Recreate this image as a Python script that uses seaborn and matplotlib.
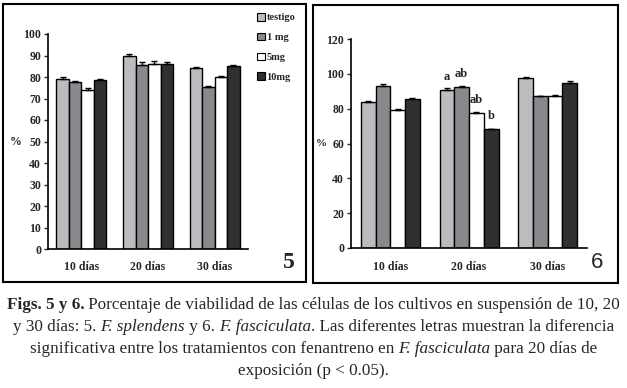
import pandas as pd
import matplotlib
matplotlib.use("Agg")
import matplotlib.pyplot as plt
import seaborn as sns
from matplotlib.patches import Rectangle
from matplotlib.container import BarContainer

# --- data ---
days = ["10 días", "20 días", "30 días"]
treatments = ["testigo", "1 mg", "5mg", "10mg"]
colors = ["#b9bcc1", "#87898d", "#ffffff", "#303033"]

# Fig. 5  F. splendens
viab5 = {
    "testigo": [79.2, 89.6, 84.2],
    "1 mg": [77.8, 85.7, 75.3],
    "5mg": [74.1, 86.2, 80.0],
    "10mg": [78.8, 86.2, 85.0],
}
err5 = {
    "testigo": [0.6, 1.2, 0.6],
    "1 mg": [0.4, 1.2, 0.5],
    "5mg": [0.8, 1.3, 0.6],
    "10mg": [0.5, 0.8, 0.6],
}

# Fig. 6  F. fasciculata
viab6 = {
    "testigo": [83.6, 91.0, 97.8],
    "1 mg": [93.3, 92.6, 87.4],
    "5mg": [79.2, 77.6, 87.4],
    "10mg": [85.5, 68.4, 94.9],
}
err6 = {
    "testigo": [0.6, 0.6, 0.5],
    "1 mg": [0.6, 0.6, 0.0],
    "5mg": [0.5, 0.5, 0.4],
    "10mg": [0.7, 0.0, 0.8],
}
letters6 = ["a", "ab", "ab", "b"]  # 20 días, per treatment


def long_df(vals, errs):
    rows = []
    for t in treatments:
        for i, d in enumerate(days):
            rows.append({"dia": d, "trat": t, "val": vals[t][i], "err": errs[t][i]})
    return pd.DataFrame(rows)


sns.set_style("white")
plt.rcParams["font.family"] = ["Liberation Serif", "DejaVu Serif"]

fig = plt.figure(figsize=(6.27, 3.88), dpi=100)
W, H = 627, 388


def px_axes(x0, x1, y_top, y_bot):
    return fig.add_axes([x0 / W, 1 - y_bot / H, (x1 - x0) / W, (y_bot - y_top) / H])


def bars_of(ax):
    return [c for c in ax.containers if isinstance(c, BarContainer)]


def draw_panel(ax, df, ymax, ystep):
    sns.barplot(data=df, x="dia", y="val", hue="trat", order=days,
                hue_order=treatments, palette=colors, width=0.75, gap=0,
                edgecolor="black", linewidth=1.0, errorbar=None, ax=ax,
                legend=False)
    # error bars (upper half only), positioned from the bars seaborn drew
    for cont, t in zip(bars_of(ax), treatments):
        sub = df[df.trat == t].set_index("dia").loc[days]
        xs = [p.get_x() + p.get_width() / 2 for p in cont.patches]
        ax.errorbar(xs, sub.val.values, yerr=[[0] * len(xs), sub.err.values],
                    fmt="none", ecolor="black", elinewidth=1, capsize=2.5,
                    capthick=1)
    ax.set_xlim(-0.5, 2.5)
    ax.set_ylim(0, ymax)
    ax.set_yticks(range(0, ymax + 1, ystep))
    ax.set_xlabel("")
    ax.set_ylabel("")
    for s in ["top", "right"]:
        ax.spines[s].set_visible(False)
    for s in ["left", "bottom"]:
        ax.spines[s].set_linewidth(1.2)
        ax.spines[s].set_color("black")
    ax.set_xticks([-0.5, 0.5, 1.5, 2.5], minor=True)
    ax.tick_params(axis="x", which="major", length=0, pad=9)
    ax.tick_params(axis="x", which="minor", length=3, direction="out", width=1)
    ax.tick_params(axis="y", length=3, direction="out", width=1, left=True, pad=2)
    for lab in ax.get_xticklabels() + ax.get_yticklabels():
        lab.set_fontweight("bold")
        lab.set_fontsize(8.5)
    ax.set_facecolor("none")


df5 = long_df(viab5, err5)
df6 = long_df(viab6, err6)

ax5 = px_axes(48, 248, 34, 249)
draw_panel(ax5, df5, 100, 10)
ax6 = px_axes(351, 587, 39, 248)
draw_panel(ax6, df6, 120, 20)

# "%" labels
fig.text(16 / W, 1 - 142 / H, "%", fontsize=8.5, fontweight="bold", va="center", ha="center")
fig.text(321 / W, 1 - 143 / H, "%", fontsize=8, fontweight="bold", va="center", ha="center")

# significance letters over 20 días bars
for p, lt in zip([c.patches[1] for c in bars_of(ax6)], letters6):
    ax6.annotate(lt, (p.get_x() + p.get_width() / 2, p.get_height()),
                 xytext=(0, 9), textcoords="offset points", ha="center",
                 va="center", fontsize=9, fontweight="bold")

# legend for panel 5
handles = [Rectangle((0, 0), 1, 1, facecolor=c, edgecolor="black", lw=0.8) for c in colors]
fig.legend(handles, ["testigo", "1 mg", "5mg", "10mg"], loc="upper left",
           bbox_to_anchor=(252 / W, 1 - 8 / H), frameon=False,
           prop={"weight": "bold", "size": 7.5}, handlelength=0.7,
           handleheight=0.7, handletextpad=0.2, labelspacing=1.0,
           borderpad=0)

# panel frames
fig.add_artist(Rectangle((3 / W, 1 - 282 / H), 303 / W, 278 / H, transform=fig.transFigure,
                         fill=False, edgecolor="black", lw=1.5))
fig.add_artist(Rectangle((313 / W, 1 - 283 / H), 305 / W, 278 / H, transform=fig.transFigure,
                         fill=False, edgecolor="black", lw=1.5))

fig.text(289 / W, 1 - 263 / H, "5", fontsize=17, fontweight="bold", ha="center", va="center")
fig.text(597 / W, 1 - 263 / H, "6", fontsize=16, ha="center", va="center",
         family=["Liberation Sans Narrow", "Liberation Sans", "DejaVu Sans"])

# caption with mixed styles
caption = [
    [("Figs. 5 y 6.", "bold"), (" Porcentaje de viabilidad de las células de los cultivos en suspensión de 10, 20", "")],
    [("y 30 días: 5. ", ""), ("F. splendens", "italic"), (" y 6. ", ""), ("F. fasciculata", "italic"),
     (". Las diferentes letras muestran la diferencia", "")],
    [("significativa entre los tratamientos con fenantreno en ", ""), ("F. fasciculata", "italic"),
     (" para 20 días de", "")],
    [("exposición (p < 0.05).", "")],
]
line_y = [305, 327, 349, 371]
renderer = fig.canvas.get_renderer()
cap_size = 12.3
for runs, yy in zip(caption, line_y):
    texts = []
    for txt, st in runs:
        kw = {"fontsize": cap_size, "va": "center", "ha": "left"}
        if st == "bold":
            kw["fontweight"] = "bold"
        if st == "italic":
            kw["fontstyle"] = "italic"
        texts.append(fig.text(0, 1 - yy / H, txt, **kw))
    widths = [t.get_window_extent(renderer).width for t in texts]
    x = (W - sum(widths)) / 2
    for t, w in zip(texts, widths):
        t.set_x(x / W)
        x += w

fig.savefig("out.png", dpi=100)
